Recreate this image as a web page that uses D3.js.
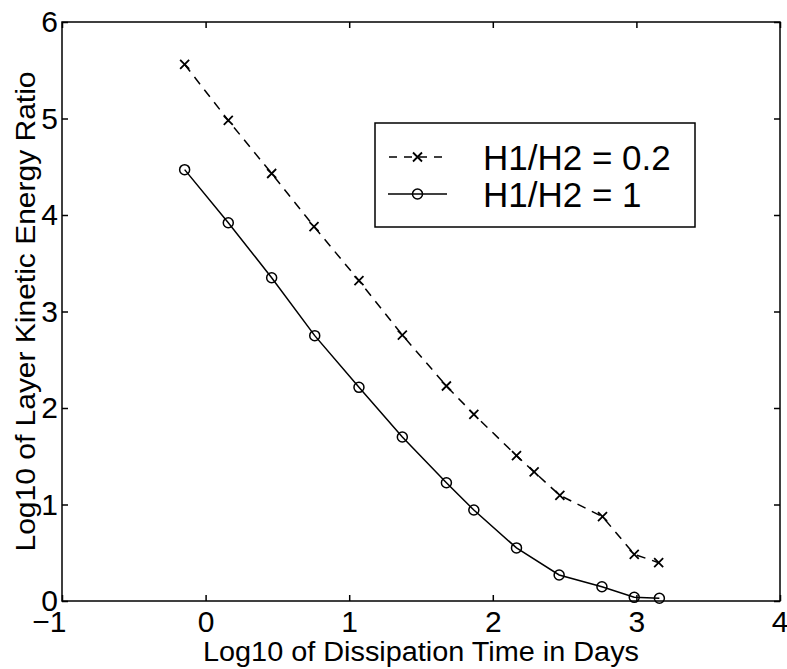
<!DOCTYPE html>
<html><head><meta charset="utf-8">
<script src="https://cdn.jsdelivr.net/npm/d3@7"></script>
<style>body{margin:0;background:#fff}svg{display:block}text{font-family:"Liberation Sans",Arial,sans-serif;fill:#000}</style>
</head><body>
<script>
const xTicks = [-1, 0, 1, 2, 3, 4];
const yTicks = [0, 1, 2, 3, 4, 5, 6];
const xDash = [-0.146, 0.158, 0.46, 0.755, 1.068, 1.37, 1.677, 1.868, 2.165, 2.288, 2.467, 2.764, 2.985, 3.155];
const yDash = [5.56, 4.98, 4.43, 3.88, 3.32, 2.756, 2.228, 1.935, 1.506, 1.337, 1.095, 0.874, 0.484, 0.397];
const xSolid = [-0.146, 0.158, 0.46, 0.76, 1.068, 1.37, 1.677, 1.868, 2.165, 2.462, 2.76, 2.985, 3.16];
const ySolid = [4.47, 3.92, 3.35, 2.75, 2.214, 1.70, 1.226, 0.943, 0.55, 0.27, 0.148, 0.038, 0.028];
const legendLabels = ["H1/H2 = 0.2", "H1/H2 = 1"];
const xLabel = "Log10 of Dissipation Time in Days";
const yLabel = "Log10 of Layer Kinetic Energy Ratio";

(function () {
const W = 787, H = 669;
const L = 62, R = 780, T = 22, B = 601;
const svg = d3.select("body").append("svg").attr("width", W).attr("height", H);
const x = d3.scaleLinear().domain([-1, 4]).range([L, R]);
const y = d3.scaleLinear().domain([0, 6]).range([B, T]);

svg.append("rect").attr("x", L).attr("y", T).attr("width", R - L).attr("height", B - T)
  .attr("fill", "none").attr("stroke", "#000").attr("stroke-width", 1.5);

const tl = 6;
const fmt = d => d < 0 ? "\u2212" + Math.abs(d) : String(d);
const gBottom = svg.append("g").attr("transform", `translate(0,${B})`)
  .call(d3.axisBottom(x).tickValues(xTicks).tickSize(-tl).tickPadding(10).tickFormat(fmt));
const gTop = svg.append("g").attr("transform", `translate(0,${T})`)
  .call(d3.axisTop(x).tickValues(xTicks).tickSize(-tl).tickFormat(""));
const gLeft = svg.append("g").attr("transform", `translate(${L},0)`)
  .call(d3.axisLeft(y).tickValues(yTicks).tickSize(-tl).tickPadding(4).tickFormat(fmt));
const gRight = svg.append("g").attr("transform", `translate(${R},0)`)
  .call(d3.axisRight(y).tickValues(yTicks).tickSize(-tl).tickFormat(""));
[gBottom, gTop, gLeft, gRight].forEach(g => {
  g.select(".domain").remove();
  g.selectAll(".tick line").attr("stroke", "#000").attr("stroke-width", 1.5);
  g.selectAll("text").style("font-size", "30px").attr("fill", "#000").attr("font-family", "Liberation Sans, Arial, sans-serif");
});
gBottom.selectAll("text").attr("dy", "0.71em");
gBottom.selectAll(".tick").filter(d => d === 4).select("text").attr("text-anchor", "end").attr("dx", "8");
gBottom.selectAll(".tick").filter(d => d === -1).select("text").attr("text-anchor", "end").attr("dx", "4");

const dashData = xDash.map((v, i) => [v, yDash[i]]);
const solidData = xSolid.map((v, i) => [v, ySolid[i]]);
const line = d3.line().x(d => x(d[0])).y(d => y(d[1]));

svg.append("path").datum(dashData).attr("d", line).attr("fill", "none")
  .attr("stroke", "#000").attr("stroke-width", 1.5).attr("stroke-dasharray", "9,7");
svg.append("path").datum(solidData).attr("d", line).attr("fill", "none")
  .attr("stroke", "#000").attr("stroke-width", 1.5);

const xm = 4.5;
function xMark(g, cx, cy) {
  g.append("path").attr("d", `M${cx - xm},${cy - xm}L${cx + xm},${cy + xm}M${cx - xm},${cy + xm}L${cx + xm},${cy - xm}`)
    .attr("stroke", "#000").attr("stroke-width", 1.8).attr("fill", "none");
}
function oMark(g, cx, cy) {
  g.append("circle").attr("cx", cx).attr("cy", cy).attr("r", 5)
    .attr("fill", "none").attr("stroke", "#000").attr("stroke-width", 1.5);
}
const mk = svg.append("g");
dashData.forEach(d => xMark(mk, x(d[0]), y(d[1])));
solidData.forEach(d => oMark(mk, x(d[0]), y(d[1])));

const lg = svg.append("g");
lg.append("rect").attr("x", 375).attr("y", 123).attr("width", 320).attr("height", 104)
  .attr("fill", "#fff").attr("stroke", "#000").attr("stroke-width", 1.5);
const rows = [157, 194];
lg.append("line").attr("x1", 388).attr("x2", 447).attr("y1", rows[0]).attr("y2", rows[0])
  .attr("stroke", "#000").attr("stroke-width", 1.5).attr("stroke-dasharray", "8,7").attr("stroke-dashoffset", -1);
xMark(lg, 417.5, rows[0]);
lg.append("line").attr("x1", 388).attr("x2", 447).attr("y1", rows[1]).attr("y2", rows[1])
  .attr("stroke", "#000").attr("stroke-width", 1.5);
oMark(lg, 417.5, rows[1]);
legendLabels.forEach((t, i) => {
  lg.append("text").attr("x", 483).attr("y", rows[i] + 13).style("font-size", "35px").text(t);
});

svg.append("text").attr("x", (L + R) / 2).attr("y", 661).attr("text-anchor", "middle")
  .style("font-size", "27px").attr("textLength", 436).attr("lengthAdjust", "spacingAndGlyphs").text(xLabel);
svg.append("text").attr("transform", `translate(35,${(T + B) / 2}) rotate(-90)`).attr("text-anchor", "middle")
  .style("font-size", "27px").attr("textLength", 480).attr("lengthAdjust", "spacingAndGlyphs").text(yLabel);
})();
</script>
</body></html>
